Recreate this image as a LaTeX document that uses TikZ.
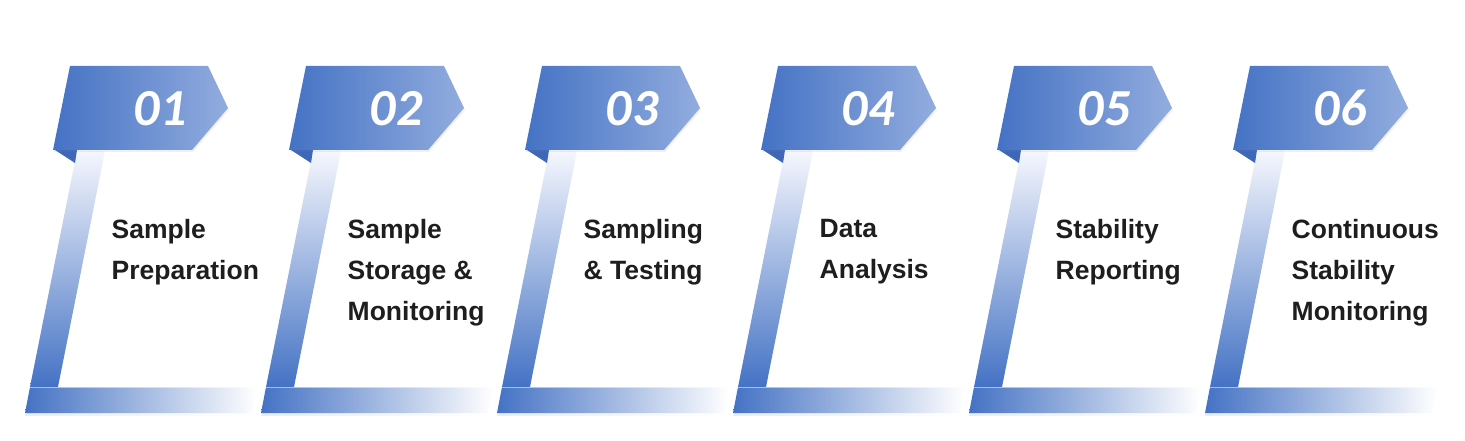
\documentclass[tikz,border=0pt]{standalone}
\usepackage{fontspec}
\setmainfont{Liberation Sans}
\newfontfamily\numfont{Carlito}
\usetikzlibrary{shadows,fadings,positioning}
\definecolor{stepblue}{RGB}{68,114,196}
\definecolor{steplight}{RGB}{146,172,222}
\definecolor{steppale}{RGB}{245,247,253}
\definecolor{stepdark}{RGB}{62,103,184}
\definecolor{labeltext}{RGB}{30,30,30}

\begin{document}
\begin{tikzpicture}[x=1pt,y=-1pt,
  banner/.style={left color=stepblue,middle color=stepblue,right color=steplight,
    drop shadow={opacity=0.12,shadow xshift=1pt,shadow yshift=-2pt}},
  post/.style={top color=steppale,bottom color=stepblue},
  footbar/.style={left color=stepblue,middle color=stepblue!50,right color=white,
    drop shadow={opacity=0.15,shadow xshift=0pt,shadow yshift=-3pt,path fading=east}},
  stepnum/.style={text=white,inner sep=0pt,anchor=base,
    font=\numfont\bfseries\itshape\fontsize{52}{52}\selectfont},
  steplabel/.style={text=labeltext,inner sep=0pt,anchor=north west,align=left,
    font=\bfseries\fontsize{26.5}{41}\selectfont}]
\useasboundingbox (0,0) rectangle (1465,441);
\foreach \i/\txt [count=\k from 0] in {01/{Sample\\Preparation},
  02/{Sample\\Storage \&\\Monitoring}, 03/{Sampling\\\& Testing},
  04/{Data\\Analysis}, 05/{Stability\\Reporting},
  06/{Continuous\\Stability\\Monitoring}} {
\begin{scope}[shift={(236*\k,0)}]
  % slanted post and foot
  \shade[post] (77,151) -- (105,151) -- (58,387) -- (30,387) -- cycle;
  \shade[footbar] (30,387) -- (257,387) -- (252,413) -- (25,413) -- cycle;
  \draw[white,opacity=0.5,line width=1] (30,387) -- (257,387);
  % fold under the banner
  \fill[stepdark] (55,150) -- (77,150) -- (75,163) -- cycle;
  \shade[banner] (70,66) -- (208,66) -- (228,108) -- (192,150) -- (53,150) -- cycle;
  \node[stepnum] (num\i) at (160,126) {\i};
  \node[steplabel] (lbl\i) at (111.5,219) {\txt};
\end{scope}
}
\end{tikzpicture}
\end{document}
